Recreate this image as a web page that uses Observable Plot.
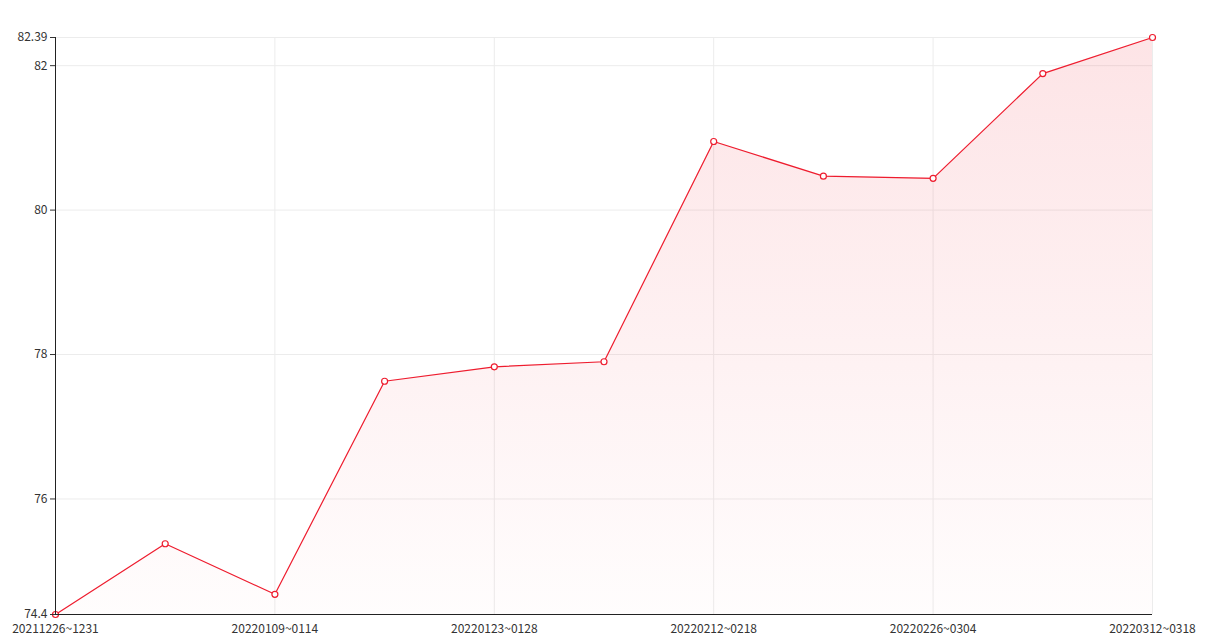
<!DOCTYPE html>
<html>
<head>
<meta charset="utf-8">
<script src="https://cdn.jsdelivr.net/npm/d3@7"></script>
<script src="https://cdn.jsdelivr.net/npm/@observablehq/plot@0.6"></script>
<style>
  html, body { margin: 0; padding: 0; background: #fff; }
  #chart svg { display: block; }
</style>
</head>
<body>
<div id="chart"></div>
<script>
const weeks = [
  "20211226~1231", "20220102~0107", "20220109~0114", "20220116~0121",
  "20220123~0128", "20220206~0211", "20220212~0218", "20220219~0225",
  "20220226~0304", "20220305~0311", "20220312~0318"
];
const values = [74.4, 75.38, 74.68, 77.63, 77.83, 77.9, 80.95, 80.47, 80.44, 81.89, 82.39];
const xTickLabels = ["20211226~1231", "20220109~0114", "20220123~0128", "20220212~0218", "20220226~0304", "20220312~0318"];
const yTicks = [74.4, 76, 78, 80, 82, 82.39];

const data = weeks.map((w, i) => ({week: w, value: values[i]}));
const lineColor = "#ee1c2e";

const gradientDefs = () => {
  const defs = d3.create("svg:defs");
  const g = defs.append("linearGradient")
    .attr("id", "areaGrad").attr("x1", 0).attr("y1", 0).attr("x2", 0).attr("y2", 1);
  g.append("stop").attr("offset", "0%").attr("stop-color", lineColor).attr("stop-opacity", 0.12);
  g.append("stop").attr("offset", "100%").attr("stop-color", lineColor).attr("stop-opacity", 0.01);
  return defs.node();
};

const chart = Plot.plot({
  width: 1222,
  height: 644,
  marginLeft: 55,
  marginRight: 70,
  marginTop: 37,
  marginBottom: 30,
  style: {fontFamily: "'Noto Sans CJK SC', 'Noto Sans', sans-serif", fontSize: "12px", color: "#333", background: "#fff"},
  x: {type: "point", domain: weeks, padding: 0, round: false, label: null},
  y: {domain: [74.4, 82.39], label: null},
  marks: [
    gradientDefs,
    Plot.gridY(yTicks, {stroke: "#ececec", strokeOpacity: 1}),
    Plot.gridX(xTickLabels, {stroke: "#ececec", strokeOpacity: 1}),
    Plot.areaY(data, {x: "week", y1: 74.4, y2: "value", fill: "url(#areaGrad)"}),
    Plot.lineY(data, {x: "week", y: "value", stroke: lineColor, strokeWidth: 1.2}),
    Plot.dot(data, {x: "week", y: "value", r: 3, fill: "#fff", stroke: lineColor, strokeWidth: 1.2}),
    Plot.axisY({ticks: yTicks, tickFormat: d => String(d), tickSize: 5, tickPadding: 3, stroke: "#333", fill: "#333", label: null}),
    Plot.axisX({ticks: xTickLabels, tickSize: 0, tickPadding: 10, fill: "#333", label: null}),
    Plot.ruleY([74.4], {stroke: "#222", strokeWidth: 1}),
    Plot.ruleX([weeks[0]], {y1: 74.4, y2: 82.39, stroke: "#222", strokeWidth: 1})
  ]
});
document.getElementById("chart").appendChild(chart);
</script>
</body>
</html>
